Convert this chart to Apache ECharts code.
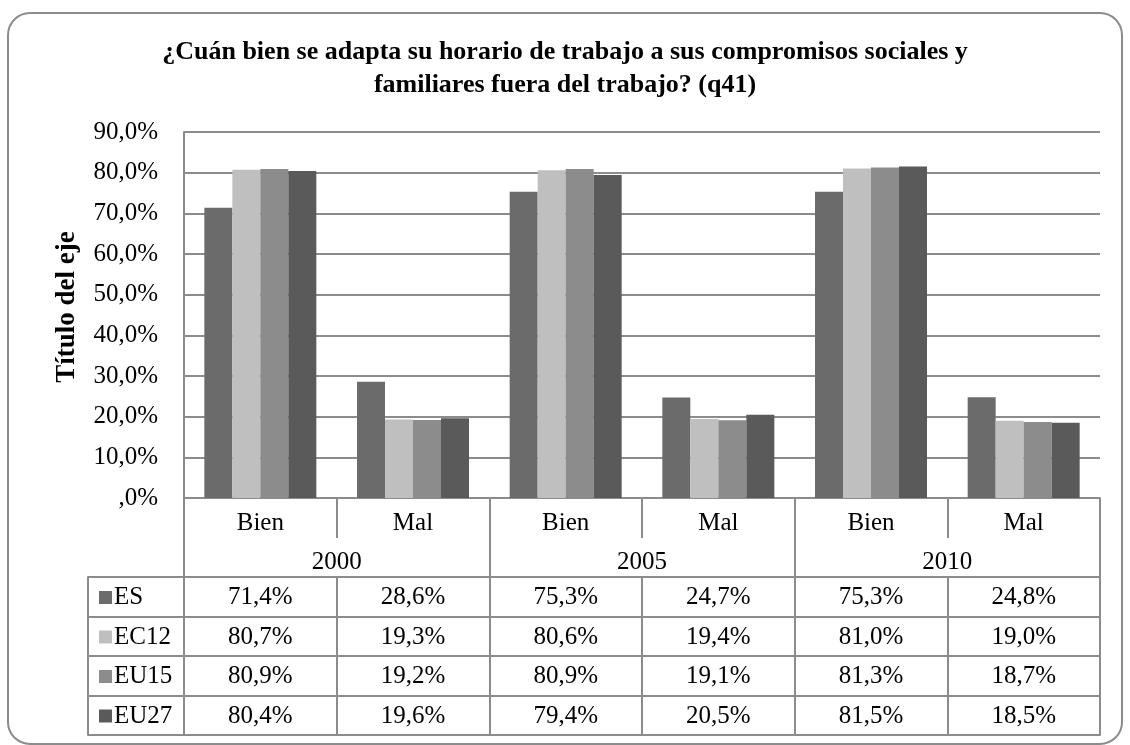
<!DOCTYPE html>
<html>
<head>
<meta charset="utf-8">
<script src="https://cdn.jsdelivr.net/npm/echarts@6/dist/echarts.min.js"></script>
<style>
  html, body { margin: 0; padding: 0; background: #fff; }
  #main { width: 1130px; height: 745px; }
</style>
</head>
<body>
<div id="main"></div>
<script>
// datos del gráfico
const categories = ['Bien', 'Mal', 'Bien', 'Mal', 'Bien', 'Mal']
const years = ['2000', '2005', '2010']
const seriesNames = ['ES', 'EC12', 'EU15', 'EU27']
const esValues = [71.4, 28.6, 75.3, 24.7, 75.3, 24.8]
const ec12Values = [80.7, 19.3, 80.6, 19.4, 81.0, 19.0]
const eu15Values = [80.9, 19.2, 80.9, 19.1, 81.3, 18.7]
const eu27Values = [80.4, 19.6, 79.4, 20.5, 81.5, 18.5]
const yTicks = [0, 10, 20, 30, 40, 50, 60, 70, 80, 90]

const colors = ['#6b6b6b', '#bfbfbf', '#8c8c8c', '#5a5a5a']
const allValues = [esValues, ec12Values, eu15Values, eu27Values]
const lineColor = '#8c8c8c'
const font = 'Liberation Serif'
const rowH = 39.5

const fmt = v => (v === 0 ? ',0%' : v.toFixed(1).replace('.', ',') + '%')
// claves únicas para el eje de categorías
const keys = categories.map((c, i) => years[Math.floor(i / 2)] + '|' + c)

const myChart = echarts.init(document.getElementById('main'))

const baseText = { fontFamily: font, fontSize: 25, color: '#000' }

// filas de la tabla de datos como ejes x adicionales
const tableAxes = allValues.map((vals, r) => ({
  type: 'category',
  gridIndex: 0,
  position: 'bottom',
  offset: 79 + r * rowH,
  data: keys,
  axisLine: { show: true, lineStyle: { color: lineColor, width: 2 } },
  axisTick: { show: true, interval: 0, length: rowH, lineStyle: { color: lineColor, width: 2 } },
  axisLabel: { ...baseText, interval: 0, margin: 8, formatter: (v, i) => fmt(vals[i]) },
}))

myChart.setOption({
  animation: false,
  textStyle: { fontFamily: font },
  title: {
    text: '¿Cuán bien se adapta su horario de trabajo a sus compromisos sociales y\nfamiliares fuera del trabajo? (q41)',
    left: 'center',
    top: 31,
    textStyle: { fontFamily: font, fontSize: 26, fontWeight: 'bold', color: '#000', lineHeight: 33 },
  },
  legend: {
    orient: 'vertical',
    left: 94,
    top: 580,
    icon: 'rect',
    itemWidth: 13,
    itemHeight: 13,
    itemGap: 14.5,
    data: seriesNames,
    textStyle: { ...baseText, lineHeight: 25, padding: [0, 0, 0, -3] },
  },
  graphic: [{
    type: 'rect',
    shape: { x: 8, y: 13, width: 1114, height: 731, r: 22 },
    style: { fill: 'none', stroke: lineColor, lineWidth: 2 },
    silent: true,
  }],
  grid: [
    { left: 184, right: 30, top: 132, bottom: 247 },
    { left: 88, width: 96, top: 577, height: 4 * rowH },
  ],
  xAxis: [
    {
      type: 'category',
      gridIndex: 0,
      position: 'bottom',
      data: keys,
      axisLine: { show: true, lineStyle: { color: lineColor, width: 2 } },
      axisTick: { show: true, interval: 0, length: 40, lineStyle: { color: lineColor, width: 2 } },
      axisLabel: { ...baseText, interval: 0, margin: 13, formatter: v => v.split('|')[1] },
    },
    {
      type: 'category',
      gridIndex: 0,
      position: 'bottom',
      offset: 40,
      data: years,
      axisLine: { show: false },
      axisTick: { show: true, interval: 0, length: 39, lineStyle: { color: lineColor, width: 2 } },
      axisLabel: { ...baseText, interval: 0, margin: 12 },
    },
    ...tableAxes,
    {
      type: 'category',
      gridIndex: 0,
      position: 'bottom',
      offset: 79 + 4 * rowH,
      data: keys,
      axisLine: { show: true, lineStyle: { color: lineColor, width: 2 } },
      axisTick: { show: false },
      axisLabel: { show: false },
    },
    { type: 'value', gridIndex: 1, show: false },
  ],
  yAxis: [
    {
      type: 'value',
      gridIndex: 0,
      min: yTicks[0],
      max: yTicks[yTicks.length - 1],
      interval: 10,
      name: 'Título del eje',
      nameLocation: 'middle',
      nameGap: 103,
      nameTextStyle: { fontFamily: font, fontSize: 27, fontWeight: 'bold', color: '#000', padding: [0, 0, 0, 16] },
      axisLine: { show: true, lineStyle: { color: lineColor, width: 2 } },
      axisTick: { show: false },
      axisLabel: { ...baseText, margin: 26, padding: [6, 0, 0, 0], formatter: fmt },
      splitLine: { show: true, lineStyle: { color: lineColor, width: 2 } },
    },
    {
      type: 'value',
      gridIndex: 1,
      min: 0,
      max: 4,
      interval: 1,
      axisLine: { show: true, lineStyle: { color: lineColor, width: 2 } },
      axisTick: { show: false },
      axisLabel: { show: false },
      splitLine: { show: true, lineStyle: { color: lineColor, width: 2 } },
    },
  ],
  series: seriesNames.map((name, i) => ({
    name,
    type: 'bar',
    xAxisIndex: 0,
    yAxisIndex: 0,
    barWidth: 28,
    barGap: '0%',
    itemStyle: { color: colors[i] },
    data: allValues[i],
  })),
})
</script>
</body>
</html>
